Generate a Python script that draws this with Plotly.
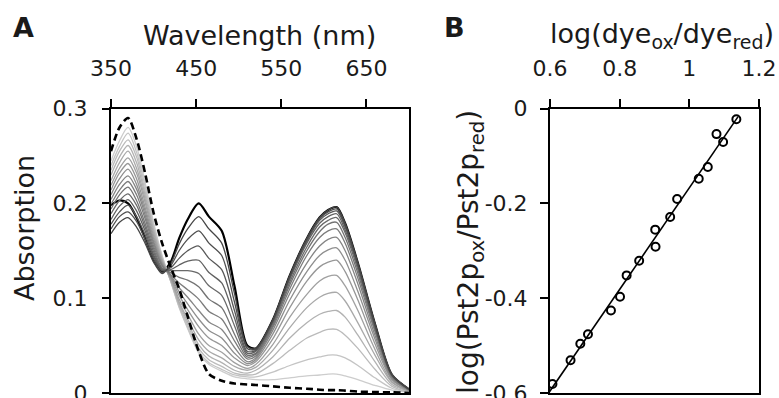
import numpy as np
import plotly.graph_objects as go

# ---------------- Panel A data (absorption spectra) ----------------
wavelength = [350, 360, 370, 380, 390, 400, 410, 420, 430, 440, 453, 465, 480, 495,
              510, 520, 540, 560, 580, 595, 605, 615, 625, 640, 660, 680, 700]

# spectra during the titration, first (black) to last (lightest grey)
spectra = [
    [.198, .203, .200, .185, .163, .140, .128, .138, .163, .183, .200, .186, .171, .113, .050, .047, .077, .124, .163, .185, .193, .196, .179, .137, .073, .019, .004],
    [.168, .180, .185, .175, .158, .138, .126, .136, .157, .173, .186, .173, .158, .105, .049, .047, .077, .124, .163, .185, .193, .196, .179, .137, .073, .019, .004],
    [.173, .186, .191, .181, .162, .141, .127, .134, .150, .162, .171, .158, .145, .096, .047, .046, .076, .123, .162, .184, .191, .194, .177, .136, .072, .019, .004],
    [.178, .191, .198, .186, .167, .144, .129, .132, .142, .150, .155, .142, .130, .087, .044, .045, .076, .122, .160, .182, .189, .192, .175, .135, .072, .019, .004],
    [.183, .197, .204, .192, .171, .146, .130, .130, .135, .139, .140, .127, .116, .079, .042, .044, .075, .120, .158, .179, .186, .189, .172, .133, .070, .019, .004],
    [.189, .203, .210, .198, .175, .149, .131, .129, .129, .129, .126, .113, .103, .071, .040, .042, .073, .117, .154, .175, .182, .185, .169, .130, .069, .018, .004],
    [.194, .209, .217, .203, .179, .152, .132, .127, .122, .119, .112, .099, .090, .062, .038, .041, .071, .114, .150, .170, .178, .180, .164, .126, .067, .018, .004],
    [.199, .214, .223, .209, .184, .155, .134, .125, .116, .109, .099, .086, .078, .055, .036, .039, .069, .110, .145, .164, .171, .173, .158, .121, .065, .017, .003],
    [.204, .220, .229, .215, .188, .158, .135, .124, .111, .101, .087, .075, .067, .048, .033, .037, .066, .105, .137, .155, .162, .164, .150, .115, .061, .016, .003],
    [.209, .226, .236, .220, .192, .160, .136, .123, .107, .094, .078, .066, .058, .042, .031, .035, .062, .098, .128, .145, .151, .153, .140, .107, .057, .015, .003],
    [.214, .232, .242, .226, .196, .163, .137, .122, .103, .088, .070, .058, .050, .037, .029, .033, .057, .090, .118, .133, .138, .140, .128, .098, .052, .014, .003],
    [.219, .237, .248, .232, .201, .166, .139, .121, .099, .083, .062, .050, .043, .032, .026, .030, .051, .080, .104, .118, .123, .124, .113, .087, .046, .012, .002],
    [.224, .243, .255, .237, .205, .169, .140, .120, .096, .078, .056, .044, .037, .028, .024, .027, .045, .069, .090, .101, .105, .106, .097, .074, .040, .011, .002],
    [.230, .249, .261, .243, .209, .172, .141, .119, .094, .075, .051, .039, .032, .024, .021, .024, .038, .058, .074, .083, .086, .087, .080, .061, .033, .009, .002],
    [.235, .255, .267, .249, .213, .174, .142, .119, .092, .072, .047, .035, .028, .021, .019, .020, .031, .045, .058, .064, .067, .067, .061, .047, .025, .007, .001],
    [.240, .260, .274, .254, .218, .177, .144, .118, .091, .069, .044, .032, .025, .019, .017, .017, .022, .029, .035, .038, .040, .040, .037, .029, .016, .005, .001],
    [.245, .266, .280, .260, .222, .180, .145, .118, .090, .068, .042, .030, .023, .017, .015, .014, .014, .016, .018, .019, .020, .020, .018, .014, .008, .003, .001],
]

# fully reduced spectrum (dashed)
reduced = [.255, .280, .290, .268, .232, .190, .158, .133, .110, .081, .044, .020, .013, .010,
           .009, .0085, .007, .0055, .0045, .0035, .003, .003, .0025, .0015, .001, .0007, 0.0]

a_xticks = [350, 450, 550, 650]
a_yticks = [0, 0.1, 0.2, 0.3]

# ---------------- Panel B data (Nernst plot) ----------------
log_dye = [0.607, 0.659, 0.687, 0.709, 0.775, 0.801, 0.820, 0.856, 0.903, 0.902,
           0.945, 0.965, 1.027, 1.053, 1.078, 1.097, 1.135]
log_pst = [-0.581, -0.531, -0.496, -0.476, -0.426, -0.397, -0.352, -0.321, -0.2915, -0.2555,
           -0.229, -0.191, -0.148, -0.1235, -0.054, -0.0706, -0.0226]
fit_x = [0.59, 1.14]

b_xticks = [0.6, 0.8, 1.0, 1.2]
b_xticktext = ["0.6", "0.8", "1", "1.2"]
b_yticks = [-0.6, -0.4, -0.2, 0]
b_yticktext = ["-0.6", "-0.4", "-0.2", "0"]

FONT = "DejaVu Sans"
TXT = "#1a1a1a"

fig = go.Figure()

# black (first) spectrum underneath, then greys from light to dark
fig.add_trace(go.Scatter(x=wavelength, y=spectra[0], mode="lines",
                         line=dict(color="#000000", width=2.2, shape="spline", smoothing=0.8),
                         xaxis="x", yaxis="y", showlegend=False))
n = len(spectra)
for i in range(n - 1, 0, -1):
    g = int(70 + (i - 1) * (205 - 70) / (n - 2))
    fig.add_trace(go.Scatter(x=wavelength, y=spectra[i], mode="lines",
                             line=dict(color=f"rgb({g},{g},{g})", width=1.3, shape="spline", smoothing=0.8),
                             xaxis="x", yaxis="y", showlegend=False))
fig.add_trace(go.Scatter(x=wavelength, y=reduced, mode="lines",
                         line=dict(color="#000000", width=2.6, dash="7px,4px", shape="spline", smoothing=0.8),
                         xaxis="x", yaxis="y", showlegend=False))

# panel B
coef = np.polyfit(log_dye, log_pst, 1)
fit_y = [float(np.polyval(coef, v)) for v in fit_x]
fig.add_trace(go.Scatter(x=fit_x, y=fit_y, mode="lines",
                         line=dict(color="#000000", width=1.6),
                         xaxis="x2", yaxis="y2", showlegend=False))
fig.add_trace(go.Scatter(x=log_dye, y=log_pst, mode="markers",
                         marker=dict(symbol="circle-open", size=8, color="#000000",
                                     line=dict(width=2, color="#000000")),
                         xaxis="x2", yaxis="y2", showlegend=False))

W, H = 779, 398
ybot, ytop = (H - 393) / H, (H - 108.5) / H

axis_common = dict(showgrid=False, zeroline=False, showline=True, linecolor="#000000",
                   linewidth=2, mirror=True, ticks="outside", tickcolor="#000000",
                   tickwidth=1.5, automargin=False, ticklabeloverflow="allow",
                   tickfont=dict(family=FONT, size=22, color=TXT))

fig.update_layout(
    width=W, height=H, autosize=False,
    margin=dict(l=0, r=0, t=0, b=0, pad=0, autoexpand=False),
    paper_bgcolor="white", plot_bgcolor="white",
    xaxis=dict(axis_common, domain=[111 / W, 409 / W], range=[350, 700], side="top",
               tickvals=a_xticks, ticklen=8, anchor="y", ticklabelstandoff=14),
    yaxis=dict(axis_common, domain=[ybot, ytop], range=[0, 0.3], tickvals=a_yticks,
               ticklen=7, anchor="x", ticklabelstandoff=10),
    xaxis2=dict(axis_common, domain=[550 / W, 759 / W], range=[0.6, 1.2], side="top",
                tickvals=b_xticks, ticktext=b_xticktext, ticklen=8, anchor="y2",
                ticklabelstandoff=14),
    yaxis2=dict(axis_common, domain=[ybot, ytop], range=[-0.6, 0], tickvals=b_yticks,
                ticktext=b_yticktext, ticklen=8, anchor="x2", ticklabelstandoff=8),
)

def ann(text, x, y, size, bold=False, angle=0):
    fig.add_annotation(text=f"<b>{text}</b>" if bold else text,
                       x=x / W, y=(H - y) / H, xref="paper", yref="paper",
                       xanchor="center", yanchor="middle", showarrow=False,
                       textangle=angle, font=dict(family=FONT, size=size, color=TXT))

ann("A", 23, 28, 27, bold=True)
ann("B", 454, 28, 27, bold=True)
ann("Wavelength (nm)", 259, 35, 27)
ann("log(dye<sub>ox</sub>/dye<sub>red</sub>)", 662, 35, 27)
ann("Absorption", 24, 228, 27, angle=-90)
ann("log(Pst2p<sub>ox</sub>/Pst2p<sub>red</sub>)", 470, 252, 28, angle=-90)

fig.write_html(
    "out.html",
    config={"displayModeBar": False, "responsive": False},
    post_script="document.documentElement.style.margin='0';document.documentElement.style.overflow='hidden';"
                "document.body.style.margin='0';document.body.style.padding='0';document.body.style.overflow='hidden';",
)
